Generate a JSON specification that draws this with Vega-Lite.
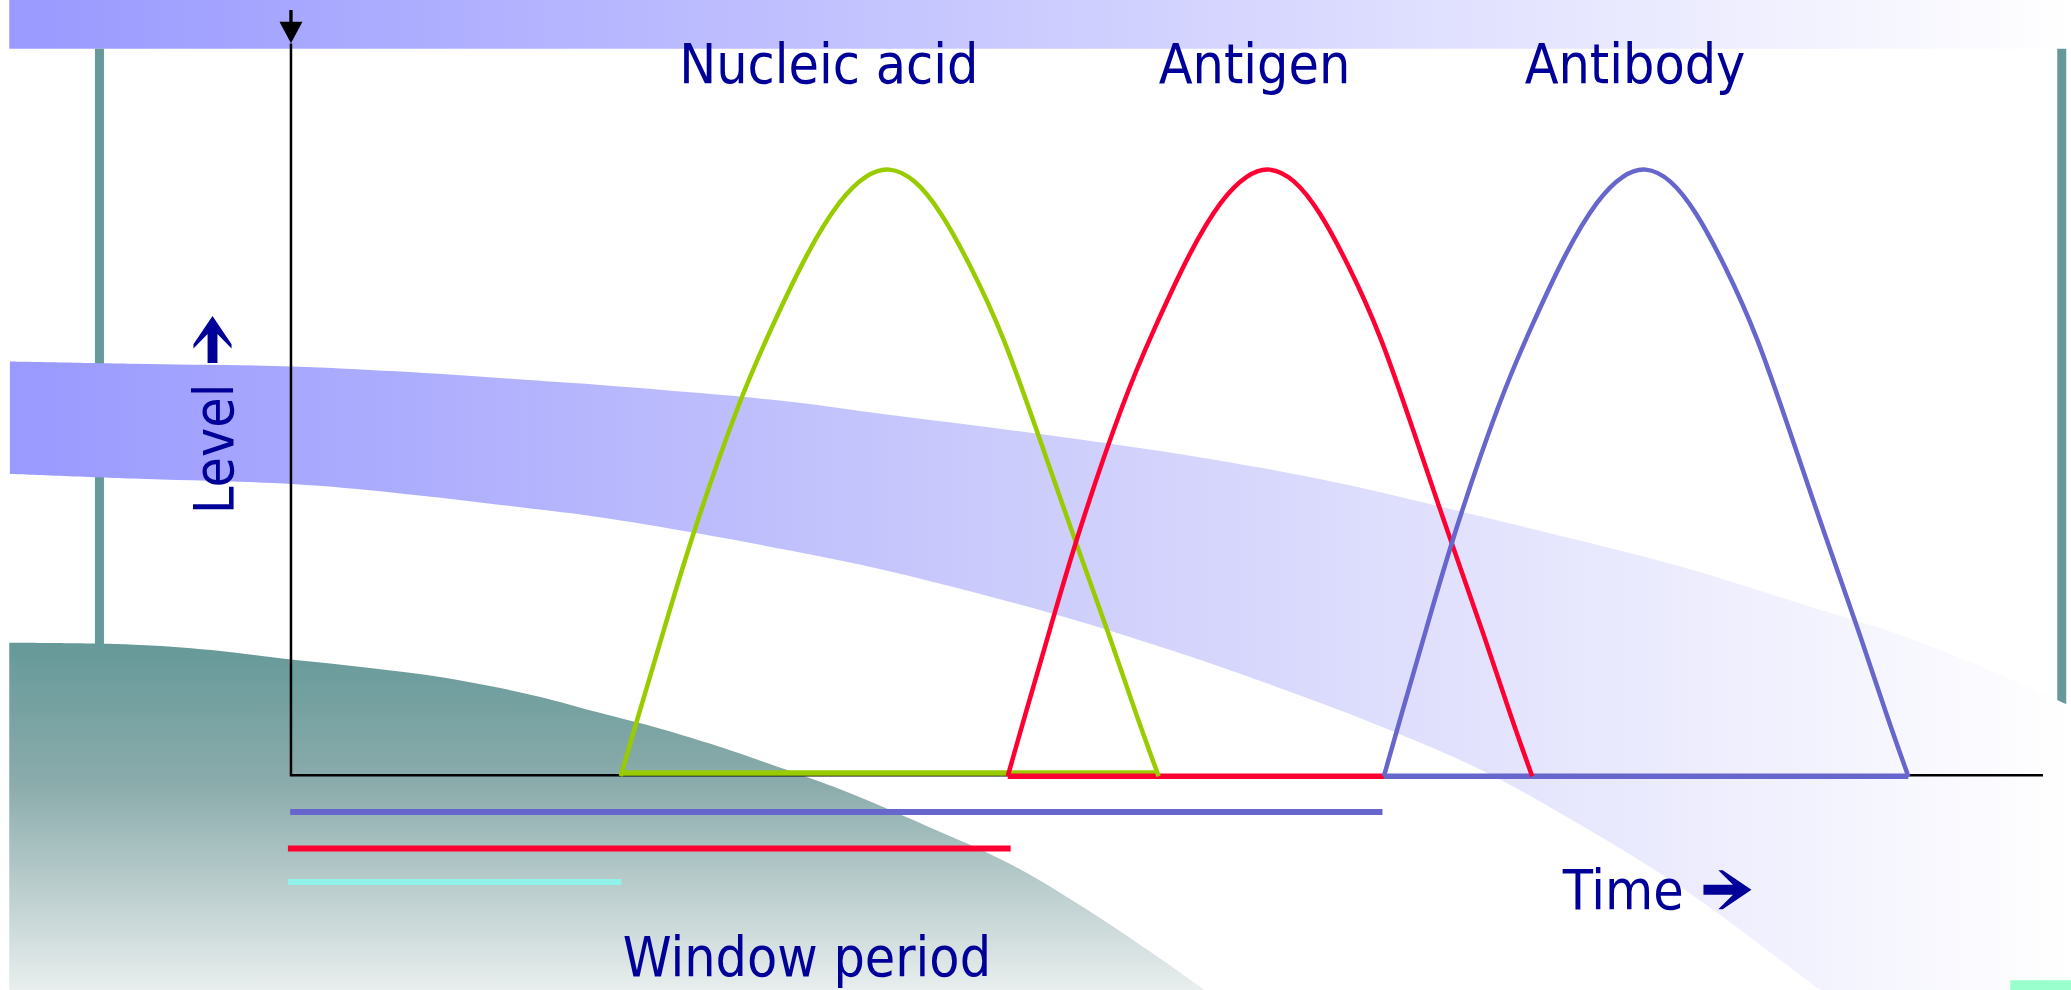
{
  "$schema": "https://vega.github.io/schema/vega-lite/v6.json",
  "width": 2071,
  "height": 990,
  "autosize": {"type": "none"},
  "padding": 0,
  "background": "#ffffff",
  "config": {"view": {"stroke": null}},
  "datasets": {
    "topband": [{"t": -213, "lvl": 588, "t2": 1348, "lvl2": 551}],
    "teallines": [
      {"t": -144.7, "lvl": 551, "lvl2": 100},
      {"t": 1341, "lvl": 551, "lvl2": 48}
    ],
    "band": [
      {"t": -212.5, "lvl": 314.2, "lvl2": 229},
      {"t": -120, "lvl": 312.5, "lvl2": 225.5},
      {"t": 1, "lvl": 310.4, "lvl2": 221.3},
      {"t": 80, "lvl": 306.7, "lvl2": 214.6},
      {"t": 180, "lvl": 300.2, "lvl2": 203},
      {"t": 230, "lvl": 296.8, "lvl2": 196.8},
      {"t": 310, "lvl": 290.2, "lvl2": 183.7},
      {"t": 380, "lvl": 283.5, "lvl2": 170.5},
      {"t": 450, "lvl": 274.2, "lvl2": 156},
      {"t": 515, "lvl": 266, "lvl2": 139.8},
      {"t": 580, "lvl": 257.5, "lvl2": 122.2},
      {"t": 640, "lvl": 249, "lvl2": 104},
      {"t": 680, "lvl": 243, "lvl2": 91},
      {"t": 765, "lvl": 228, "lvl2": 61},
      {"t": 830, "lvl": 214, "lvl2": 36},
      {"t": 900, "lvl": 197, "lvl2": 5.4},
      {"t": 970, "lvl": 180, "lvl2": -33},
      {"t": 1055, "lvl": 158, "lvl2": -85.6},
      {"t": 1158, "lvl": 126, "lvl2": -162},
      {"t": 1210, "lvl": 110, "lvl2": -200},
      {"t": 1280, "lvl": 83, "lvl2": -252},
      {"t": 1348, "lvl": 53, "lvl2": -302}
    ],
    "teal": [
      {"t": -213, "lvl": 101, "lvl2": -162},
      {"t": -122, "lvl": 99.7, "lvl2": -162},
      {"t": -60, "lvl": 95.5, "lvl2": -162},
      {"t": 0, "lvl": 88.3, "lvl2": -162},
      {"t": 60, "lvl": 82, "lvl2": -162},
      {"t": 118, "lvl": 74.4, "lvl2": -162},
      {"t": 185, "lvl": 61, "lvl2": -162},
      {"t": 234, "lvl": 48, "lvl2": -162},
      {"t": 280, "lvl": 36, "lvl2": -162},
      {"t": 318, "lvl": 24.5, "lvl2": -162},
      {"t": 382, "lvl": 2.5, "lvl2": -162},
      {"t": 416, "lvl": -10, "lvl2": -162},
      {"t": 482, "lvl": -37.9, "lvl2": -162},
      {"t": 543, "lvl": -65.6, "lvl2": -162},
      {"t": 595, "lvl": -96, "lvl2": -162},
      {"t": 651, "lvl": -133, "lvl2": -162},
      {"t": 692, "lvl": -162, "lvl2": -162}
    ],
    "axes": [
      {"t": 0.3, "lvl": 555, "t2": 0.3, "lvl2": 0},
      {"t": 0, "lvl": 0.6, "t2": 1326.8, "lvl2": 0.6}
    ],
    "baselines": [
      {"kind": "Nucleic acid", "t": 250, "t2": 657.2, "lvl": 2.4},
      {"kind": "Antigen", "t": 543, "t2": 827.8, "lvl": 0},
      {"kind": "Antibody", "t": 827.8, "t2": 1224.8, "lvl": 0}
    ],
    "curves": [
      {"kind": "Nucleic acid", "t": 250, "lvl": 0},
      {"kind": "Nucleic acid", "t": 262.3, "lvl": 42.6},
      {"kind": "Nucleic acid", "t": 283, "lvl": 112},
      {"kind": "Nucleic acid", "t": 304.3, "lvl": 183.8},
      {"kind": "Nucleic acid", "t": 340.7, "lvl": 287.4},
      {"kind": "Nucleic acid", "t": 363.1, "lvl": 337.6},
      {"kind": "Nucleic acid", "t": 391.1, "lvl": 397.3},
      {"kind": "Nucleic acid", "t": 416.4, "lvl": 438.1},
      {"kind": "Nucleic acid", "t": 436, "lvl": 456},
      {"kind": "Nucleic acid", "t": 452.8, "lvl": 462},
      {"kind": "Nucleic acid", "t": 472.4, "lvl": 453},
      {"kind": "Nucleic acid", "t": 492, "lvl": 428.6},
      {"kind": "Nucleic acid", "t": 514.4, "lvl": 387.8},
      {"kind": "Nucleic acid", "t": 539.6, "lvl": 334.4},
      {"kind": "Nucleic acid", "t": 564.8, "lvl": 262.3},
      {"kind": "Nucleic acid", "t": 592.8, "lvl": 181.5},
      {"kind": "Nucleic acid", "t": 620.8, "lvl": 104.5},
      {"kind": "Nucleic acid", "t": 640.4, "lvl": 46},
      {"kind": "Nucleic acid", "t": 657.2, "lvl": 0},
      {"kind": "Antigen", "t": 543, "lvl": 0},
      {"kind": "Antigen", "t": 555, "lvl": 42.6},
      {"kind": "Antigen", "t": 575.2, "lvl": 112},
      {"kind": "Antigen", "t": 595.9, "lvl": 183.8},
      {"kind": "Antigen", "t": 631.4, "lvl": 287.4},
      {"kind": "Antigen", "t": 653.3, "lvl": 337.6},
      {"kind": "Antigen", "t": 680.6, "lvl": 397.3},
      {"kind": "Antigen", "t": 705.2, "lvl": 438.1},
      {"kind": "Antigen", "t": 724.4, "lvl": 456},
      {"kind": "Antigen", "t": 740.7, "lvl": 462},
      {"kind": "Antigen", "t": 759.8, "lvl": 453},
      {"kind": "Antigen", "t": 779, "lvl": 428.6},
      {"kind": "Antigen", "t": 800.8, "lvl": 387.8},
      {"kind": "Antigen", "t": 825.4, "lvl": 334.4},
      {"kind": "Antigen", "t": 849.9, "lvl": 262.3},
      {"kind": "Antigen", "t": 877.2, "lvl": 181.5},
      {"kind": "Antigen", "t": 904.5, "lvl": 104.5},
      {"kind": "Antigen", "t": 923.6, "lvl": 46},
      {"kind": "Antigen", "t": 940, "lvl": 0},
      {"kind": "Antibody", "t": 827.8, "lvl": 0},
      {"kind": "Antibody", "t": 839.8, "lvl": 42.6},
      {"kind": "Antibody", "t": 860, "lvl": 112},
      {"kind": "Antibody", "t": 880.7, "lvl": 183.8},
      {"kind": "Antibody", "t": 916.2, "lvl": 287.4},
      {"kind": "Antibody", "t": 938.1, "lvl": 337.6},
      {"kind": "Antibody", "t": 965.4, "lvl": 397.3},
      {"kind": "Antibody", "t": 990, "lvl": 438.1},
      {"kind": "Antibody", "t": 1009.2, "lvl": 456},
      {"kind": "Antibody", "t": 1025.5, "lvl": 462},
      {"kind": "Antibody", "t": 1044.6, "lvl": 453},
      {"kind": "Antibody", "t": 1063.8, "lvl": 428.6},
      {"kind": "Antibody", "t": 1085.6, "lvl": 387.8},
      {"kind": "Antibody", "t": 1110.2, "lvl": 334.4},
      {"kind": "Antibody", "t": 1134.7, "lvl": 262.3},
      {"kind": "Antibody", "t": 1162, "lvl": 181.5},
      {"kind": "Antibody", "t": 1189.3, "lvl": 104.5},
      {"kind": "Antibody", "t": 1208.4, "lvl": 46},
      {"kind": "Antibody", "t": 1224.8, "lvl": 0}
    ],
    "window": [
      {"kind": "Antibody window", "t": -0.3, "t2": 826.7, "lvl": -27.2},
      {"kind": "Antigen window", "t": -2, "t2": 545.2, "lvl": -54.8},
      {"kind": "Nucleic acid window", "t": -2, "t2": 250.5, "lvl": -80.2}
    ],
    "labels": [
      {"label": "Nucleic acid", "t": 407.5, "lvl": 524.9},
      {"label": "Antigen", "t": 729.8, "lvl": 524.9},
      {"label": "Antibody", "t": 1017.9, "lvl": 524.9},
      {"label": "Window period", "t": 390.9, "lvl": -151.5},
      {"label": "Time", "t": 1009, "lvl": -101}
    ],
    "ylabel": [{"label": "Level", "t": -43.6, "lvl": 248}],
    "uparrow": [{"t": -59.1, "lvl": 330.8}],
    "rightarrow": [{"t": 1087.9, "lvl": -86.1}],
    "downarrow": [{"t": 0.3, "lvl": 567.8}],
    "corner": [{"t": 1302, "t2": 1348, "lvl": -154.7, "lvl2": -162}]
  },
  "encoding": {
    "x": {"field": "t", "type": "quantitative", "scale": {"domain": [-220, 1348], "nice": false, "zero": false}, "axis": null},
    "y": {"field": "lvl", "type": "quantitative", "scale": {"domain": [-162, 588], "nice": false, "zero": false}, "axis": null}
  },
  "layer": [
    {
      "data": {"name": "topband"},
      "mark": {"type": "rect", "fill": {"gradient": "linear", "x1": 0, "y1": 0, "x2": 1, "y2": 0, "stops": [{"offset": 0, "color": "#9999ff"}, {"offset": 1, "color": "#ffffff"}]}},
      "encoding": {"x2": {"field": "t2"}, "y2": {"field": "lvl2"}}
    },
    {
      "data": {"name": "teallines"},
      "mark": {"type": "rule", "color": "#669999", "strokeWidth": 9},
      "encoding": {"y2": {"field": "lvl2"}}
    },
    {
      "data": {"name": "band"},
      "mark": {"type": "area", "interpolate": "catmull-rom", "opacity": 1, "fill": {"gradient": "linear", "x1": 0, "y1": 0, "x2": 1, "y2": 0, "stops": [{"offset": 0, "color": "#9999ff"}, {"offset": 0.5, "color": "#cdcdfc"}, {"offset": 1, "color": "#ffffff"}]}},
      "encoding": {"y2": {"field": "lvl2"}}
    },
    {
      "data": {"name": "teal"},
      "mark": {"type": "area", "interpolate": "catmull-rom", "opacity": 1, "fill": {"gradient": "linear", "x1": 0, "y1": 0, "x2": 0, "y2": 1, "stops": [{"offset": 0, "color": "#669999"}, {"offset": 0.4, "color": "#8aabab"}, {"offset": 1, "color": "#e9eeee"}]}},
      "encoding": {"y2": {"field": "lvl2"}}
    },
    {
      "data": {"name": "axes"},
      "mark": {"type": "rule", "color": "#000000", "strokeWidth": 2.5},
      "encoding": {"x2": {"field": "t2"}, "y2": {"field": "lvl2"}}
    },
    {
      "data": {"name": "baselines"},
      "mark": {"type": "rule", "strokeWidth": 5.5},
      "encoding": {
        "x2": {"field": "t2"},
        "color": {"field": "kind", "type": "nominal", "legend": null, "scale": {"domain": ["Nucleic acid", "Antigen", "Antibody", "Nucleic acid window", "Antigen window", "Antibody window"], "range": ["#99cc00", "#ff0033", "#6666cc", "#90f2ea", "#ff0033", "#6666cc"]}}
      }
    },
    {
      "data": {"name": "curves"},
      "mark": {"type": "line", "strokeWidth": 4.5, "interpolate": "basis"},
      "encoding": {
        "color": {"field": "kind", "type": "nominal", "legend": null}
      }
    },
    {
      "data": {"name": "window"},
      "mark": {"type": "rule", "strokeWidth": 6},
      "encoding": {
        "x2": {"field": "t2"},
        "color": {"field": "kind", "type": "nominal", "legend": null}
      }
    },
    {
      "data": {"name": "labels"},
      "mark": {"type": "text", "font": "'DejaVu Sans Condensed', 'DejaVu Sans', sans-serif", "fontSize": 55, "color": "#000099", "align": "center", "baseline": "alphabetic"},
      "encoding": {"text": {"field": "label"}}
    },
    {
      "data": {"name": "ylabel"},
      "mark": {"type": "text", "font": "'DejaVu Sans Condensed', 'DejaVu Sans', sans-serif", "fontSize": 55, "color": "#000099", "align": "center", "baseline": "alphabetic", "angle": 270},
      "encoding": {"text": {"field": "label"}}
    },
    {
      "data": {"name": "uparrow"},
      "mark": {"type": "point", "shape": "M-1,-0.21 L0.23,-0.21 L-0.38,-0.81 L-0.2,-0.81 L1,0 L-0.2,0.81 L-0.38,0.81 L0.23,0.21 L-1,0.21 Z", "size": 2209, "angle": 270, "filled": true, "color": "#000099", "opacity": 1, "strokeWidth": 0}
    },
    {
      "data": {"name": "rightarrow"},
      "mark": {"type": "point", "shape": "M-1,-0.21 L0.23,-0.21 L-0.38,-0.81 L-0.2,-0.81 L1,0 L-0.2,0.81 L-0.38,0.81 L0.23,0.21 L-1,0.21 Z", "size": 2304, "filled": true, "color": "#000099", "opacity": 1, "strokeWidth": 0}
    },
    {
      "data": {"name": "downarrow"},
      "mark": {"type": "point", "shape": "M-0.1,-1 L0.1,-1 L0.1,-0.3 L0.69,-0.3 L0,1 L-0.69,-0.3 L-0.1,-0.3 Z", "size": 1109, "filled": true, "color": "#000000", "opacity": 1, "strokeWidth": 0}
    },
    {
      "data": {"name": "corner"},
      "mark": {"type": "rect", "color": "#99ffcc"},
      "encoding": {"x2": {"field": "t2"}, "y2": {"field": "lvl2"}}
    }
  ]
}
